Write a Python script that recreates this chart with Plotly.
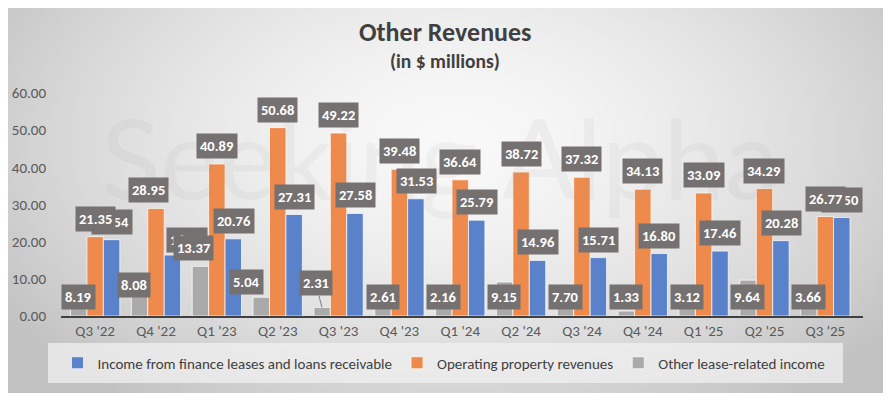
import base64, zlib, struct
import numpy as np
import plotly.graph_objects as go

categories = ["Q3 '22", "Q4 '22", "Q1 '23", "Q2 '23", "Q3 '23", "Q4 '23", "Q1 '24",
              "Q2 '24", "Q3 '24", "Q4 '24", "Q1 '25", "Q2 '25", "Q3 '25"]
finance_income = [20.54, 16.40, 20.76, 27.31, 27.58, 31.53, 25.79, 14.96, 15.71, 16.80, 17.46, 20.28, 26.50]
operating_rev = [21.35, 28.95, 40.89, 50.68, 49.22, 39.48, 36.64, 38.72, 37.32, 34.13, 33.09, 34.29, 26.77]
other_lease = [8.19, 8.08, 13.37, 5.04, 2.31, 2.61, 2.16, 9.15, 7.70, 1.33, 3.12, 9.64, 3.66]

BLUE, ORANGE, GRAY = "#5A82CA", "#EE8A4B", "#AAAAAA"
FONT = "Carlito, Liberation Sans, Arial, sans-serif"
OFF = 8                      # page body margin in the browser
W, H = 891 - OFF, 397 - OFF
PLOT_L, PLOT_R, PLOT_T, PLOT_B = 61, 863, 93, 316   # page pixel positions of plot area
ML, MR, MT, MB = PLOT_L - OFF, W - (PLOT_R - OFF), PLOT_T - OFF, H - (PLOT_B - OFF)
PW, PH = W - ML - MR, H - MT - MB


def make_png(arr):
    h, w = arr.shape
    raw = b"".join(b"\x00" + arr[i].tobytes() for i in range(h))

    def chunk(t, d):
        return struct.pack(">I", len(d)) + t + d + struct.pack(">I", zlib.crc32(t + d) & 0xffffffff)
    ihdr = struct.pack(">IIBBBBB", w, h, 8, 0, 0, 0, 0)
    return (b"\x89PNG\r\n\x1a\n" + chunk(b"IHDR", ihdr) +
            chunk(b"IDAT", zlib.compress(raw, 9)) + chunk(b"IEND", b""))


# radial grey gradient for the chart area
gw, gh = 221, 98
xs = (np.arange(gw) + 0.5) / gw * 884 + 3
ys = (np.arange(gh) + 0.5) / gh * 390 + 3
X, Y = np.meshgrid(xs, ys)
r = np.sqrt(((X - 455) / 540) ** 2 + ((Y - 140) / 330) ** 2)
t = np.clip(r, 0, 1) ** 1.6
grad = (249 - (249 - 194) * t).astype(np.uint8)
uri = "data:image/png;base64," + base64.b64encode(make_png(grad)).decode()


def px_x(p):
    """page x pixel -> paper coordinate"""
    return (p - PLOT_L) / PW


def px_y(p):
    """page y pixel -> paper coordinate"""
    return (PLOT_B - p) / PH


fig = go.Figure()
fig.add_trace(go.Bar(x=categories, y=other_lease, name="Other lease-related income",
                     marker=dict(color=GRAY, line=dict(color="rgba(255,255,255,0.7)", width=1))))
fig.add_trace(go.Bar(x=categories, y=operating_rev, name="Operating property revenues",
                     marker=dict(color=ORANGE, line=dict(color="rgba(255,255,255,0.7)", width=1))))
fig.add_trace(go.Bar(x=categories, y=finance_income, name="Income from finance leases and loans receivable",
                     marker=dict(color=BLUE, line=dict(color="rgba(255,255,255,0.7)", width=1))))

barw = PW / len(categories) * (1 - 0.19) / 3
offsets = {"other": -barw, "operating": 0.0, "finance": barw}

# label nudges (pixels) reproducing the manual placement in the original
nudges = {
    ("finance", 1): dict(dx=14, dy=-3),
    ("operating", 1): dict(dx=-8, dy=0),
    ("other", 1): dict(dx=-5, dy=12),
    ("other", 2): dict(dx=-7, dy=0, mode="end"),
    ("other", 3): dict(dx=-15, dy=15),
    ("other", 4): dict(arrow=True),
}

annotations = []

# watermark
annotations.append(dict(text="Seeking Alpha", xref="paper", yref="paper",
                        x=px_x(440), y=px_y(88), showarrow=False,
                        font=dict(family="Lato, sans-serif", size=110, color="rgba(160,160,160,0.09)")))


def add_label(series, i, v):
    nd = nudges.get((series, i), {})
    base = dict(text=f"<b>{v:.2f}</b>", xref="x", yref="y", x=categories[i],
                bgcolor="#767171", borderpad=3,
                font=dict(family=FONT, size=14.5, color="white"))
    if nd.get("arrow"):
        base.update(y=v, xshift=offsets[series], showarrow=True, arrowhead=0,
                    arrowwidth=1, arrowcolor="#7f7f7f", ax=-6, ay=-24, standoff=0)
    elif series == "other" and nd.get("mode") != "end":
        base.update(y=0, yanchor="bottom", showarrow=False,
                    xshift=offsets[series] + nd.get("dx", 0), yshift=6 + nd.get("dy", 0))
    else:
        base.update(y=v, yanchor="bottom", showarrow=False,
                    xshift=offsets[series] + nd.get("dx", 0), yshift=5 + nd.get("dy", 0))
    annotations.append(base)


for i, v in enumerate(finance_income):
    add_label("finance", i, v)
for i, v in enumerate(operating_rev):
    add_label("operating", i, v)
for i, v in enumerate(other_lease):
    add_label("other", i, v)

# titles
annotations.append(dict(text="<b>Other Revenues</b>", xref="paper", yref="paper",
                        x=px_x(445), y=px_y(32), showarrow=False, yanchor="middle",
                        font=dict(family=FONT, size=26, color="#404040")))
annotations.append(dict(text="<b>(in $ millions)</b>", xref="paper", yref="paper",
                        x=px_x(445), y=px_y(61), showarrow=False, yanchor="middle",
                        font=dict(family=FONT, size=19.5, color="#404040")))

fig.update_layout(
    width=W, height=H,
    margin=dict(l=ML, r=MR, t=MT, b=MB, pad=0, autoexpand=False),
    paper_bgcolor="white", plot_bgcolor="rgba(0,0,0,0)",
    barmode="group", bargap=0.19, bargroupgap=0,
    font=dict(family=FONT, color="#595959"),
    showlegend=True,
    legend=dict(orientation="h", traceorder="reversed", xanchor="center", yanchor="middle",
                x=px_x(444), y=px_y(363), bgcolor="rgba(0,0,0,0)", itemwidth=30,
                font=dict(family=FONT, size=15, color="#404040")),
    images=[dict(source=uri, xref="paper", yref="paper", x=px_x(3), y=px_y(3),
                 sizex=884 / PW, sizey=390 / PH, sizing="stretch", layer="below",
                 xanchor="left", yanchor="top")],
    shapes=[dict(type="rect", xref="paper", yref="paper", x0=px_x(48), x1=px_x(843),
                 y0=px_y(383), y1=px_y(343), fillcolor="rgba(240,240,240,0.75)",
                 line=dict(width=0), layer="below")],
    annotations=annotations,
    xaxis=dict(showline=True, linecolor="#404040", linewidth=2, ticks="", showgrid=False,
               tickfont=dict(family=FONT, size=15, color="#595959")),
    yaxis=dict(range=[0, 60], dtick=10, tickformat=".2f", showgrid=False, zeroline=False,
               showline=False, ticks="", ticklabelstandoff=14,
               tickfont=dict(family=FONT, size=15, color="#595959")),
)

fig.write_html("out.html")
